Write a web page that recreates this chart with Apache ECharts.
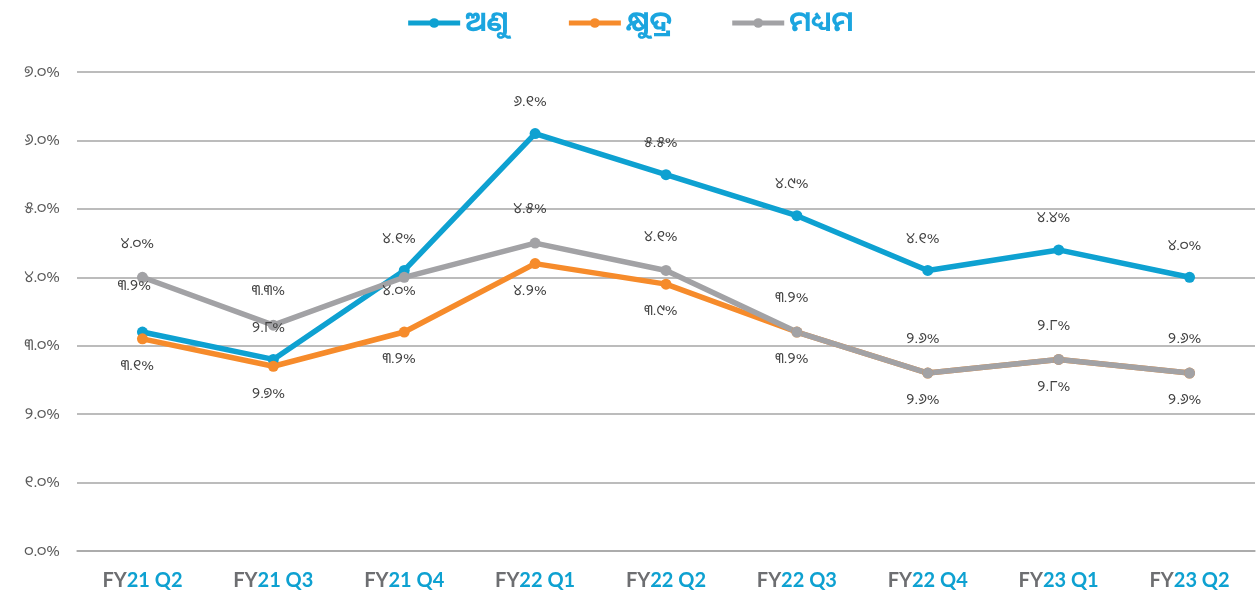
<!DOCTYPE html>
<html>
<head>
<meta charset="utf-8">
<script src="https://cdn.jsdelivr.net/npm/echarts@6/dist/echarts.min.js"></script>
<style>
  html, body { margin: 0; padding: 0; background: #fff; }
  #chart { width: 1259px; height: 596px; }
</style>
</head>
<body>
<div id="chart"></div>
<script>
const categories = ['FY21 Q2', 'FY21 Q3', 'FY21 Q4', 'FY22 Q1', 'FY22 Q2', 'FY22 Q3', 'FY22 Q4', 'FY23 Q1', 'FY23 Q2'];
const seriesNames = ['ଅଣୁ', 'କ୍ଷୁଦ୍ର', 'ମଧ୍ୟମ'];
const micro = [3.2, 2.8, 4.1, 6.1, 5.5, 4.9, 4.1, 4.4, 4.0];
const small = [3.1, 2.7, 3.2, 4.2, 3.9, 3.2, 2.6, 2.8, 2.6];
const medium = [4.0, 3.3, 4.0, 4.5, 4.1, 3.2, 2.6, 2.8, 2.6];
const yMin = 0, yMax = 7, yStep = 1;

const odiaDigits = '୦୧୨୩୪୫୬୭୮୯';
const toOdia = s => String(s).replace(/[0-9]/g, d => odiaDigits[d]);
const pct = v => toOdia(v.toFixed(1)) + '%';

const odiaFont = '"Noto Sans Oriya", "Noto Sans Odia", "Lohit Odia", "Kalinga", "DejaVu Sans", sans-serif';
const colors = ['#0ea1d1', '#f68b2b', '#a2a2a5'];

// label tweaks for a few points, the rest follow the series default
function points(values, special) {
  return values.map((v, i) => special[i] ? { value: v, label: special[i] } : v);
}

const chart = echarts.init(document.getElementById('chart'));

function lineSeries(name, values, color, position, distance, special) {
  return {
    name: name,
    type: 'line',
    data: points(values, special || {}),
    symbol: 'circle',
    symbolSize: 11,
    lineStyle: { width: 5.5, color: color },
    itemStyle: { color: color },
    label: {
      show: true,
      position: position,
      distance: distance,
      offset: [-5, 0],
      formatter: p => pct(p.value),
      color: '#404040',
      fontSize: 15,
      fontFamily: odiaFont
    },
    emphasis: { disabled: true }
  };
}

chart.setOption({
  animation: false,
  color: colors,
  legend: {
    top: 4,
    left: 'center',
    itemWidth: 52,
    itemHeight: 12,
    itemGap: 58,
    lineStyle: { width: 5 },
    textStyle: { color: '#1ba5df', fontSize: 28, fontWeight: 'bold', fontFamily: odiaFont },
    data: seriesNames
  },
  grid: { left: 77, right: 4, top: 72, bottom: 45, outerBoundsMode: 'none' },
  xAxis: {
    type: 'category',
    data: categories,
    axisLine: { lineStyle: { color: '#a6a6a6', width: 1.5 } },
    axisTick: { show: false },
    axisLabel: {
      margin: 20,
      formatter: v => '{a|' + v.slice(0, 2) + '}{b|' + v.slice(2) + '}',
      rich: {
        a: { color: '#6d6e71', fontSize: 20, fontWeight: 'bold', fontFamily: 'Lato, "Open Sans", sans-serif' },
        b: { color: '#0ea1d1', fontSize: 20, fontWeight: 'bold', fontFamily: 'Lato, "Open Sans", sans-serif' }
      }
    }
  },
  yAxis: {
    type: 'value',
    min: yMin,
    max: yMax,
    interval: yStep,
    axisLine: { show: false },
    axisTick: { show: false },
    splitLine: { lineStyle: { color: '#a6a6a6', width: 1.5 } },
    axisLabel: {
      margin: 17,
      formatter: v => pct(v),
      color: '#595959',
      fontSize: 16,
      fontFamily: odiaFont
    }
  },
  series: [
    lineSeries(seriesNames[0], micro, colors[0], 'top', 19, { 0: { offset: [-8, -14] } }),
    lineSeries(seriesNames[1], small, colors[1], 'bottom', 14),
    lineSeries(seriesNames[2], medium, colors[2], 'top', 21, { 2: { position: 'bottom', distance: 0 } })
  ]
});
</script>
</body>
</html>
